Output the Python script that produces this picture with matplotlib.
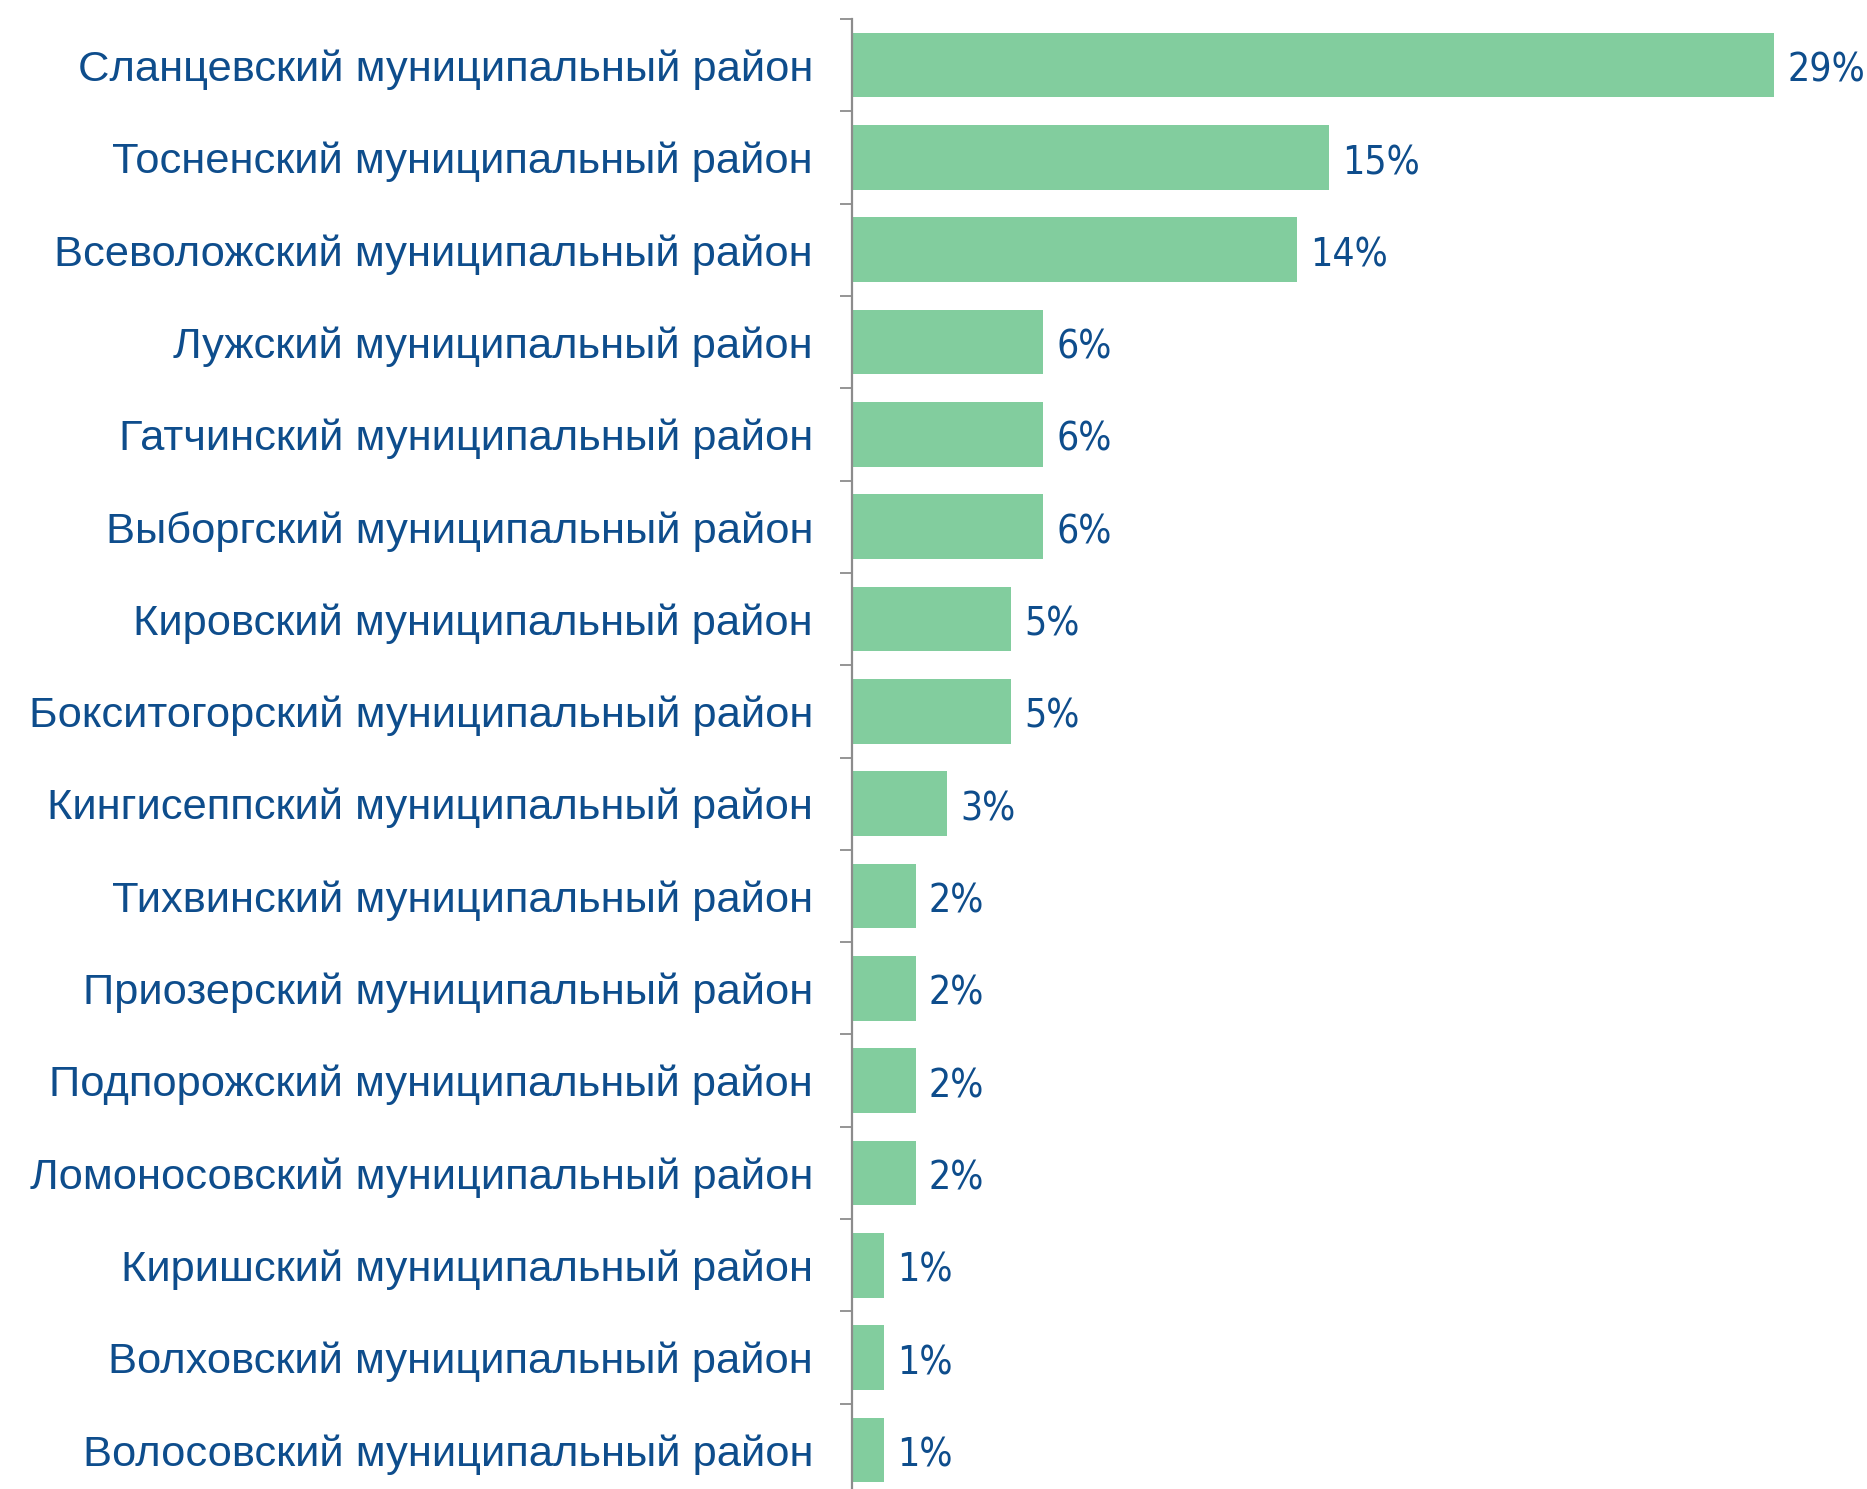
import numpy as np
import matplotlib
matplotlib.use("Agg")
from matplotlib import pyplot as plt
from matplotlib import font_manager

districts = [
    "Сланцевский муниципальный район",
    "Тосненский муниципальный район",
    "Всеволожский муниципальный район",
    "Лужский муниципальный район",
    "Гатчинский муниципальный район",
    "Выборгский муниципальный район",
    "Кировский муниципальный район",
    "Бокситогорский муниципальный район",
    "Кингисеппский муниципальный район",
    "Тихвинский муниципальный район",
    "Приозерский муниципальный район",
    "Подпорожский муниципальный район",
    "Ломоносовский муниципальный район",
    "Киришский муниципальный район",
    "Волховский муниципальный район",
    "Волосовский муниципальный район",
]
shares = [29, 15, 14, 6, 6, 6, 5, 5, 3, 2, 2, 2, 2, 1, 1, 1]

bar_color = "#82cd9e"
text_color = "#0e4d8c"
axis_color = "#8c8c8c"

# narrow font for the value labels, if one is around
names = {f.name for f in font_manager.fontManager.ttflist}
narrow = [n for n in ["Liberation Sans Narrow", "DejaVu Sans Condensed"] if n in names]
val_family = narrow + ["DejaVu Sans"]

W, H = 1867, 1489
fig = plt.figure(figsize=(W / 100, H / 100), dpi=100)
# axis runs past the bottom of the picture, as in the original
left, right = 852 / W, 1867 / W
top, bottom = 1 - 19 / H, 1 - 1496 / H
ax = fig.add_axes([left, bottom, right - left, top - bottom])

y = np.arange(len(districts))
ax.barh(y, shares, height=0.70, color=bar_color)
ax.set_ylim(len(districts) - 0.5, -0.5)
ax.set_xlim(0, 1015 / 31.8)

for yi, v in zip(y, shares):
    ax.text(v + 0.42, yi + 0.06, f"{v}%", va="center", ha="left", color=text_color,
            fontsize=28, family=val_family, fontstretch="condensed")

ax.set_yticks(y)
ax.set_yticklabels(districts, fontsize=31.3, color=text_color,
                   family=["Liberation Sans", "DejaVu Sans"])
ax.tick_params(axis="y", which="major", length=0, pad=28)
ax.set_yticks(np.arange(-0.5, len(districts), 1), minor=True)
ax.tick_params(axis="y", which="minor", length=9, width=1.3, color=axis_color)
ax.set_xticks([])

for s in ["top", "right", "bottom"]:
    ax.spines[s].set_visible(False)
ax.spines["left"].set_color(axis_color)
ax.spines["left"].set_linewidth(1.6)

fig.savefig("out.png", dpi=100)
